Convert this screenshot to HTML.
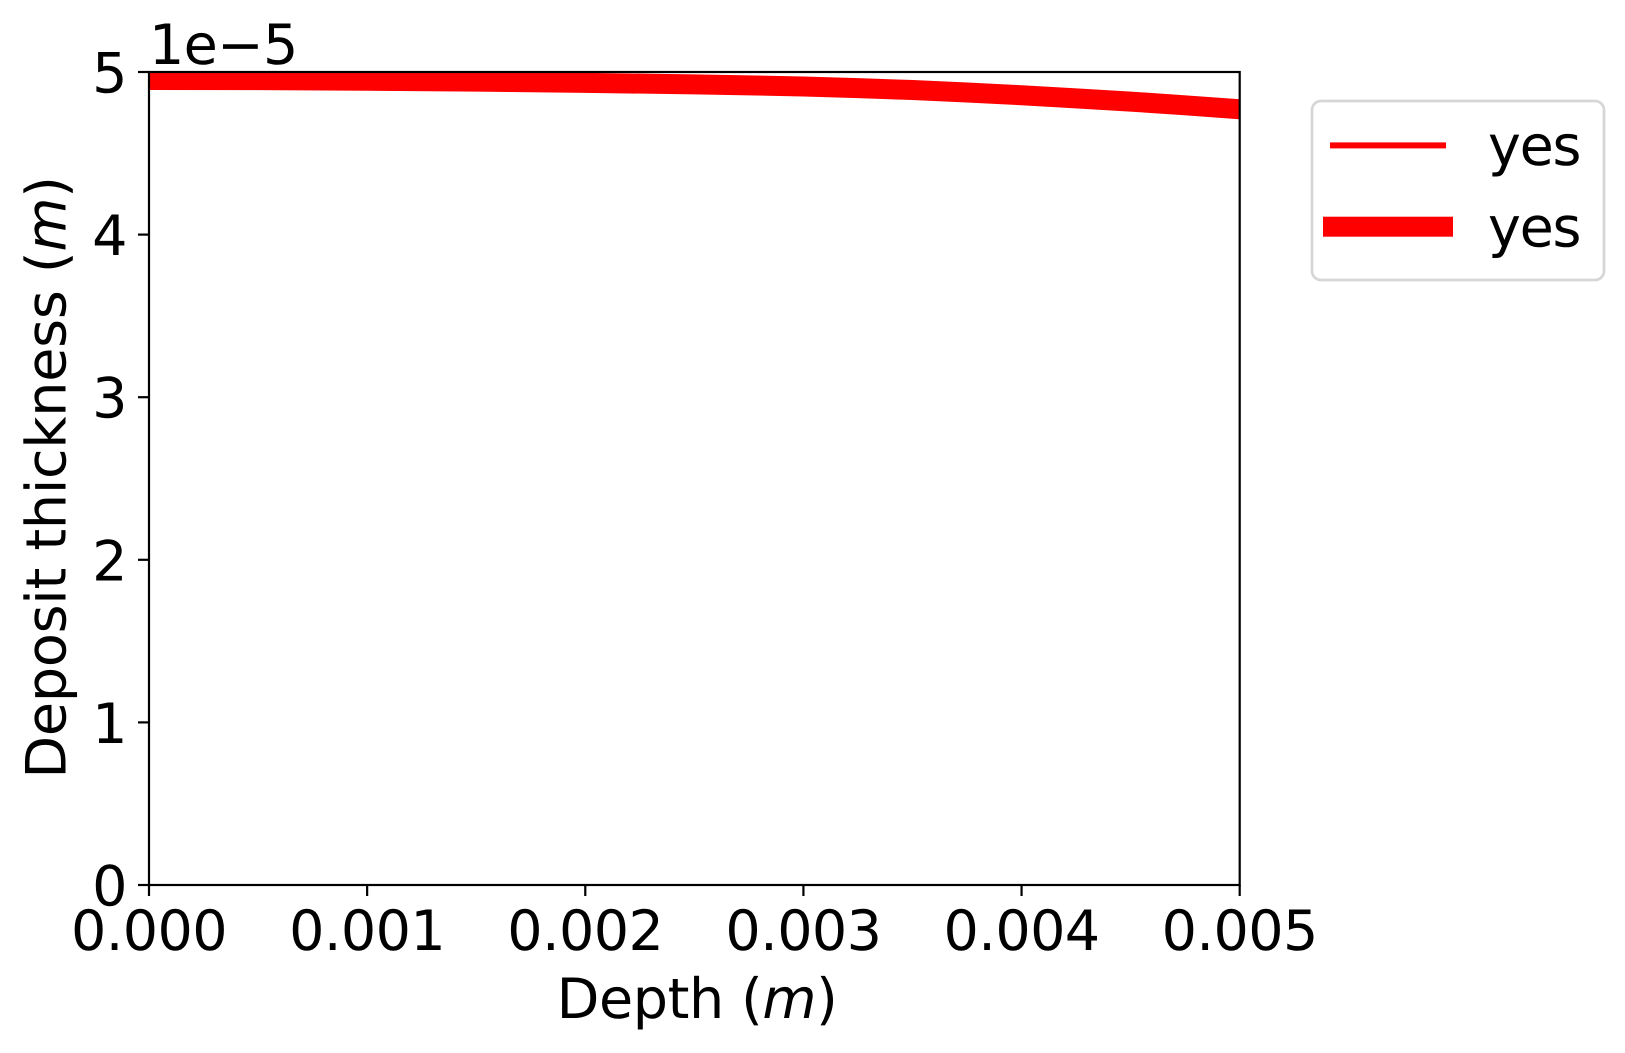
<!DOCTYPE html>
<html lang="en">
<head>
<meta charset="utf-8">
<title>Deposit thickness vs depth</title>
<style>
html,body{margin:0;padding:0;background:#fff;width:1625px;height:1053px;overflow:hidden}
svg{display:block}
text{font-family:"DejaVu Sans",sans-serif;font-size:55.56px;fill:#000;text-rendering:geometricPrecision}
</style>
</head>
<body>
<svg id="chart" xmlns="http://www.w3.org/2000/svg" width="1625" height="1053" viewBox="0 0 1625 1053">
  <defs>
    <clipPath id="plot-clip"><rect x="149" y="72" width="1090.7" height="813"/></clipPath>
  </defs>
  <rect x="0" y="0" width="1625" height="1053" fill="#fff"/>
  <g id="series-layer" clip-path="url(#plot-clip)"></g>
  <g id="ticks-layer"></g>
  <rect x="149" y="72" width="1090.7" height="813" fill="none" stroke="#000" stroke-width="2.2"/>
  <text x="149" y="64" letter-spacing="-0.7">1e−5</text>
  <text x="697" y="1018" text-anchor="middle" letter-spacing="-0.4">Depth (<tspan font-style="italic">m</tspan>)</text>
  <text transform="translate(65.5 477.5) rotate(-90)" text-anchor="middle" letter-spacing="-0.25">Deposit thickness (<tspan font-style="italic">m</tspan>)</text>
  <g>
    <rect x="1312" y="101" width="292" height="179" rx="9" ry="9" fill="#fff" stroke="#d6d6d6" stroke-width="2.7"/>
    <rect x="1330" y="142.4" width="116" height="6" fill="#f00"/>
    <text x="1488" y="165" letter-spacing="-1.3">yes</text>
    <rect x="1323" y="216.7" width="130" height="20" fill="#f00"/>
    <text x="1488" y="246.5" letter-spacing="-1.3">yes</text>
  </g>
</svg>
<script>
const depthValues = [0, 0.0005, 0.001, 0.0015, 0.002, 0.0025, 0.00275, 0.003, 0.00325, 0.0035, 0.00375, 0.004, 0.00425, 0.0045, 0.00475, 0.005];
const thinSeries = [4.951, 4.950, 4.946, 4.941, 4.933, 4.924, 4.918, 4.911, 4.901, 4.889, 4.874, 4.857, 4.838, 4.818, 4.795, 4.771];
const thickSeries = [4.951, 4.950, 4.946, 4.941, 4.933, 4.924, 4.918, 4.911, 4.901, 4.889, 4.874, 4.857, 4.838, 4.818, 4.795, 4.771];
const xTickValues = [0, 0.001, 0.002, 0.003, 0.004, 0.005];
const xTickLabels = ["0.000", "0.001", "0.002", "0.003", "0.004", "0.005"];
const yTickValues = [0, 1, 2, 3, 4, 5];
const yTickLabels = ["0", "1", "2", "3", "4", "5"];

const NS = "http://www.w3.org/2000/svg";
const plot = { left: 149, right: 1239.7, top: 72, bottom: 885 };
const xDomain = [0, 0.005];
const yDomain = [0, 5];

function xScale(v) {
  return plot.left + (v - xDomain[0]) / (xDomain[1] - xDomain[0]) * (plot.right - plot.left);
}
function yScale(v) {
  return plot.bottom - (v - yDomain[0]) / (yDomain[1] - yDomain[0]) * (plot.bottom - plot.top);
}
function pathFrom(xs, ys) {
  return xs.map(function (x, i) {
    return (i ? "L" : "M") + xScale(x).toFixed(2) + " " + yScale(ys[i]).toFixed(2);
  }).join(" ");
}

const seriesLayer = document.getElementById("series-layer");
const ticksLayer = document.getElementById("ticks-layer");

const thinLine = document.createElementNS(NS, "path");


thinLine.setAttribute("d", pathFrom(depthValues, thinSeries));
thinLine.setAttribute("fill", "none");
thinLine.setAttribute("stroke", "#f00");
thinLine.setAttribute("stroke-width", "6");
thinLine.setAttribute("stroke-linejoin", "round");
seriesLayer.appendChild(thinLine);

const thickLine = document.createElementNS(NS, "path");


thickLine.setAttribute("d", pathFrom(depthValues, thickSeries));
thickLine.setAttribute("fill", "none");
thickLine.setAttribute("stroke", "#f00");
thickLine.setAttribute("stroke-width", "20");
thickLine.setAttribute("stroke-linejoin", "round");
seriesLayer.appendChild(thickLine);

xTickValues.forEach(function (v, i) {
  const x = xScale(v);
  const mark = document.createElementNS(NS, "line");
  
  
  mark.setAttribute("x1", x);
  mark.setAttribute("x2", x);
  mark.setAttribute("y1", plot.bottom);
  mark.setAttribute("y2", plot.bottom + 11);
  mark.setAttribute("stroke", "#000");
  mark.setAttribute("stroke-width", "2.2");
  ticksLayer.appendChild(mark);
  const label = document.createElementNS(NS, "text");
  
  
  label.setAttribute("x", x);
  label.setAttribute("y", 950);
  label.setAttribute("text-anchor", "middle");
  label.setAttribute("letter-spacing", "-0.6");
  label.textContent = xTickLabels[i];
  ticksLayer.appendChild(label);
});

yTickValues.forEach(function (v, i) {
  const y = yScale(v);
  const mark = document.createElementNS(NS, "line");
  
  
  mark.setAttribute("x1", plot.left - 11);
  mark.setAttribute("x2", plot.left);
  mark.setAttribute("y1", y);
  mark.setAttribute("y2", y);
  mark.setAttribute("stroke", "#000");
  mark.setAttribute("stroke-width", "2.2");
  ticksLayer.appendChild(mark);
  const label = document.createElementNS(NS, "text");
  
  
  label.setAttribute("x", 127.5);
  label.setAttribute("y", y + 20.5);
  label.setAttribute("text-anchor", "end");
  label.textContent = yTickLabels[i];
  ticksLayer.appendChild(label);
});
</script>
</body>
</html>
